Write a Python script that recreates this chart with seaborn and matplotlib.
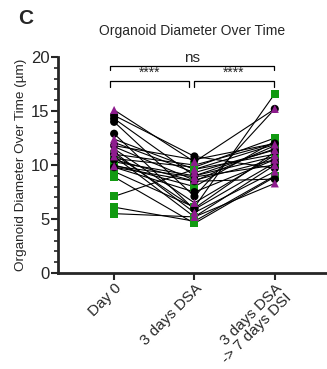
import matplotlib
matplotlib.use("Agg")
import matplotlib.pyplot as plt
import seaborn as sns
import pandas as pd
import numpy as np

timepoints = ["Day 0", "3 days DSA", "3 days DSA\n-> 7 days DSI"]

green_day0 = [10.6, 10.0, 9.4, 8.9, 7.1, 6.1, 5.5, 9.8, 10.3, 11.0]
green_dsa = [9.8, 8.0, 6.1, 4.6, 9.6, 4.8, 5.2, 8.5, 9.0, 10.0]
green_dsi = [12.5, 12.2, 16.6, 8.9, 11.0, 9.0, 10.0, 11.8, 10.8, 12.0]

black_day0 = [14.6, 14.3, 14.0, 12.9, 11.8, 10.5, 9.8, 11.0]
black_dsa = [10.8, 9.0, 7.1, 5.9, 10.5, 8.5, 7.5, 6.0]
black_dsi = [9.7, 11.5, 15.2, 10.2, 12.0, 8.7, 10.5, 11.2]

purple_day0 = [15.1, 12.1, 11.7, 11.2, 10.8, 12.4, 9.9, 11.5]
purple_dsa = [10.3, 9.3, 8.6, 5.6, 5.2, 9.6, 8.9, 6.5]
purple_dsi = [15.2, 11.4, 10.5, 9.4, 8.3, 11.9, 10.0, 10.9]

groups = {
    "green": (green_day0, green_dsa, green_dsi),
    "black": (black_day0, black_dsa, black_dsi),
    "purple": (purple_day0, purple_dsa, purple_dsi),
}

rows = []
uid = 0
for g, series in groups.items():
    for i in range(len(series[0])):
        for t in range(3):
            rows.append({"id": uid, "group": g, "t": t, "value": series[t][i]})
        uid += 1
df = pd.DataFrame(rows)

sns.set_style("ticks")
plt.rcParams['font.family'] = ['Liberation Sans', 'DejaVu Sans']

fig = plt.figure(figsize=(3.27, 3.69), dpi=100)
ax = fig.add_axes([0.177, 0.26, 0.823, 0.5854])

sns.lineplot(data=df, x="t", y="value", units="id", estimator=None,
             color="black", linewidth=0.8, ax=ax, legend=False)

palette = {"green": "#119a11", "black": "#000000", "purple": "#8e1c8e"}
markers = {"green": "s", "black": "o", "purple": "^"}
sns.scatterplot(data=df, x="t", y="value", hue="group", style="group",
                palette=palette, markers=markers, s=34, edgecolor="none",
                ax=ax, legend=False, zorder=3)

ax.set_xlim(-0.7, 2.65)
ax.set_ylim(0, 20)
ax.set_yticks([0, 5, 10, 15, 20])
ax.set_yticks(np.arange(0, 21, 1), minor=True)
ax.set_xticks([0, 1, 2])
ax.set_xticklabels(timepoints, rotation=45, ha="right", rotation_mode="anchor",
                   fontsize=11, linespacing=0.95)
ax.tick_params(axis="y", labelsize=12, width=1.5, length=5, pad=1)
ax.tick_params(axis="y", which="minor", width=1.2, length=3)
ax.tick_params(axis="x", width=1.5, length=5, pad=1)
ax.set_xlabel("")
ax.set_ylabel("Organoid Diameter Over Time (µm)", fontsize=9.7, labelpad=3)
for s in ["top", "right"]:
    ax.spines[s].set_visible(False)
for s in ["left", "bottom"]:
    ax.spines[s].set_linewidth(2)

ax.set_title("Organoid Diameter Over Time", fontsize=10, pad=16)

def bracket(x1, x2, y, text, h=0.35, fs=9):
    ax.plot([x1, x1, x2, x2], [y - h, y, y, y - h], color="black", lw=0.9,
            clip_on=False)
    ax.text((x1 + x2) / 2, y + 0.05, text, ha="center", va="bottom",
            fontsize=fs)

bracket(-0.05, 0.93, 17.8, "****", h=0.6, fs=10)
bracket(0.99, 1.99, 17.8, "****", h=0.6, fs=10)
bracket(-0.05, 1.99, 19.2, "ns", h=0.4, fs=11)

fig.text(0.055, 0.951, "C", fontsize=15, fontweight="bold", va="center")

fig.savefig("out.png", dpi=100)
